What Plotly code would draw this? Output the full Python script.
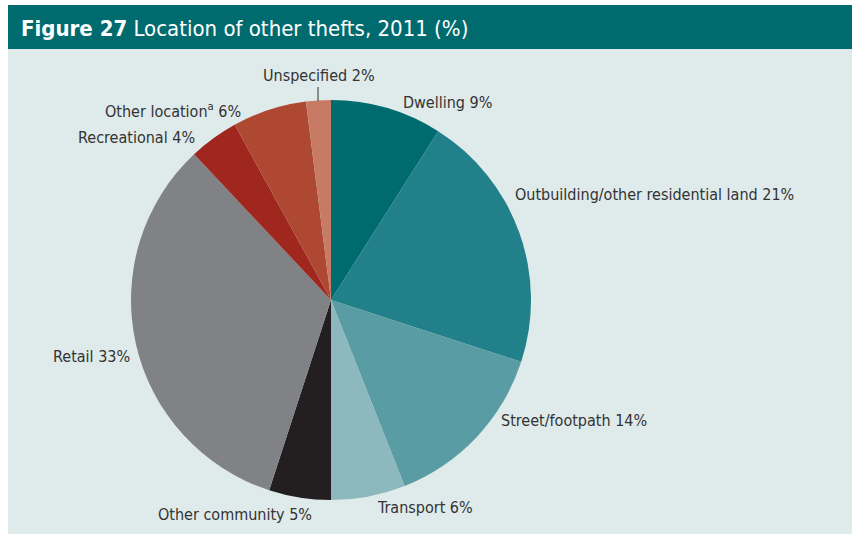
import plotly.graph_objects as go

W, H = 852, 534

# Data
categories = ["Dwelling", "Outbuilding/other residential land", "Street/footpath", "Transport",
              "Other community", "Retail", "Recreational", "Other location<sup>a</sup>", "Unspecified"]
values = [9, 21, 14, 6, 5, 33, 4, 6, 2]
colors = ["#006B6E", "#22808A", "#5A9CA3", "#8DB8BD", "#231F20",
          "#808285", "#A0271D", "#AE4832", "#C77B65"]

title_bold = "Figure 27"
title_rest = " Location of other thefts, 2011 (%)"

FONT = "DejaVu Sans Condensed, Liberation Sans Narrow, sans-serif"
TXT = "#333333"

# pie geometry (pixels)
cx, cy, r = 331, 300, 200

def px(x):
    return x / W

def py(y):
    return 1 - y / H

fig = go.Figure()
fig.add_trace(go.Pie(
    values=values,
    labels=categories,
    sort=False,
    direction="clockwise",
    rotation=0,
    marker=dict(colors=colors, line=dict(width=0)),
    textinfo="none",
    hoverinfo="label+percent",
    showlegend=False,
    domain=dict(x=[px(cx - r), px(cx + r)], y=[py(cy + r), py(cy - r)]),
))

# label placement (pixel anchor, xanchor) -- layout only
label_pos = [
    (401, 102, "left"),
    (513, 194, "left"),
    (499, 420, "left"),
    (375, 507, "left"),
    (314, 514, "right"),
    (132, 356, "right"),
    (197, 137, "right"),
    (243, 110, "right"),
    (319, 75, "center"),
]

annotations = []
for cat, val, (x, y, xa) in zip(categories, values, label_pos):
    annotations.append(dict(
        x=px(x), y=py(y), xref="paper", yref="paper",
        text=f"{cat} {val}%", showarrow=False, xanchor=xa, yanchor="middle",
        font=dict(family=FONT, size=16, color=TXT),
    ))

# title
annotations.append(dict(
    x=px(19), y=py(28), xref="paper", yref="paper", xanchor="left", yanchor="middle",
    text=f"<b>{title_bold}</b>{title_rest}", showarrow=False,
    font=dict(family=FONT, size=22, color="white"),
))

shapes = [
    # light panel background
    dict(type="rect", xref="paper", yref="paper", x0=px(8), x1=1, y0=0, y1=py(49),
         fillcolor="#DFEAEB", line=dict(width=0), layer="below"),
    # title bar
    dict(type="rect", xref="paper", yref="paper", x0=px(8), x1=1, y0=py(49), y1=py(5),
         fillcolor="#006B6E", line=dict(width=0), layer="below"),
    # leader line for Unspecified
    dict(type="line", xref="paper", yref="paper", x0=px(318), x1=px(318), y0=py(87), y1=py(101),
         line=dict(color=TXT, width=1)),
]

fig.update_layout(
    width=W, height=H,
    margin=dict(l=0, r=0, t=0, b=0),
    paper_bgcolor="white",
    plot_bgcolor="white",
    annotations=annotations,
    shapes=shapes,
)

fig.write_html("out.html", config={"displayModeBar": False},
               post_script="document.body.style.margin='0';document.body.style.overflow='hidden';")
